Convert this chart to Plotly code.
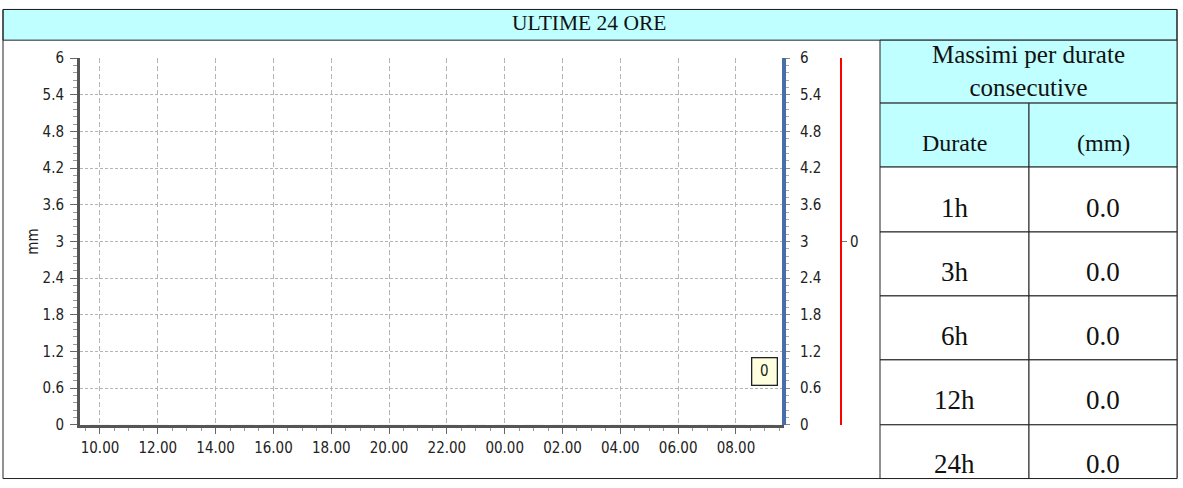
import plotly.graph_objects as go

W, H = 1183, 488

# ---------------- data ----------------
title_text = "ULTIME 24 ORE"
times = [
    "2024-05-01 10:00", "2024-05-01 11:00", "2024-05-01 12:00", "2024-05-01 13:00",
    "2024-05-01 14:00", "2024-05-01 15:00", "2024-05-01 16:00", "2024-05-01 17:00",
    "2024-05-01 18:00", "2024-05-01 19:00", "2024-05-01 20:00", "2024-05-01 21:00",
    "2024-05-01 22:00", "2024-05-01 23:00", "2024-05-02 00:00", "2024-05-02 01:00",
    "2024-05-02 02:00", "2024-05-02 03:00", "2024-05-02 04:00", "2024-05-02 05:00",
    "2024-05-02 06:00", "2024-05-02 07:00", "2024-05-02 08:00", "2024-05-02 09:00",
]
rain_mm = [0.0, 0.0, 0.0, 0.0, 0.0, 0.0, 0.0, 0.0, 0.0, 0.0, 0.0, 0.0,
           0.0, 0.0, 0.0, 0.0, 0.0, 0.0, 0.0, 0.0, 0.0, 0.0, 0.0, 0.0]
x_range = ["2024-05-01 09:18:30", "2024-05-02 09:39:40"]
y_title = "mm"
table_title = "Massimi per durate<br>consecutive"
col_headers = ["Durate", "(mm)"]
durate = ["1h", "3h", "6h", "12h", "24h"]
massimi_mm = [0.0, 0.0, 0.0, 0.0, 0.0]

# ---------------- helpers ----------------
# the photographed page is slightly compressed vertically; pre-compensate
V_SCALE, V_OFF = 0.964, 8.8


def fx(px):
    return px / W


def fy(py):
    y = (py - V_OFF) / V_SCALE
    y = min(max(y, 0.5), H - 0.5)
    return 1 - y / H


def vs(dpx):
    return dpx / V_SCALE


CYAN = "#bfffff"
BORDER = "#222222"
TICK_FONT = dict(family="DejaVu Sans Condensed, DejaVu Sans", size=15, color="#222222")
SERIF = "Liberation Serif, Times New Roman, serif"
GRID = "#b4b4b4"

fig = go.Figure()
fig.add_trace(go.Bar(x=times, y=rain_mm, marker_color="#4a6eaa",
                     xaxis="x", yaxis="y", hoverinfo="skip", showlegend=False))
fig.add_trace(go.Scatter(x=times, y=rain_mm, mode="none", xaxis="x", yaxis="y2",
                         hoverinfo="skip", showlegend=False))
cumulative = []
s = 0.0
for v in rain_mm:
    s += v
    cumulative.append(s)
fig.add_trace(go.Scatter(x=times, y=cumulative, mode="none", xaxis="x", yaxis="y3",
                         hoverinfo="skip", showlegend=False))

shapes = []
# header band
shapes.append(dict(type="rect", xref="paper", yref="paper", x0=fx(3), x1=fx(1177),
                   y0=fy(40), y1=fy(5), fillcolor=CYAN, line=dict(color=BORDER, width=1),
                   layer="below"))
# outer frame
shapes.append(dict(type="rect", xref="paper", yref="paper", x0=fx(3), x1=fx(1177),
                   y0=fy(487), y1=fy(5), line=dict(color=BORDER, width=1), layer="below"))

# table geometry
tx0, tmid, tx1 = 880, 1029, 1177
row_tops = [40, 103, 167, 232, 296, 360, 425, 487]
annotations = []
# table title cell
shapes.append(dict(type="rect", xref="paper", yref="paper", x0=fx(tx0), x1=fx(tx1),
                   y0=fy(row_tops[1]), y1=fy(row_tops[0]), fillcolor=CYAN,
                   line=dict(color=BORDER, width=1), layer="below"))
annotations.append(dict(xref="paper", yref="paper", x=fx((tx0 + tx1) / 2),
                        y=fy((row_tops[0] + row_tops[1]) / 2 - 1), text=table_title,
                        showarrow=False, font=dict(family=SERIF, size=25, color="#111"),
                        xanchor="center", yanchor="middle"))
# column header cells
for i, (a, b) in enumerate([(tx0, tmid), (tmid, tx1)]):
    shapes.append(dict(type="rect", xref="paper", yref="paper", x0=fx(a), x1=fx(b),
                       y0=fy(row_tops[2]), y1=fy(row_tops[1]), fillcolor=CYAN,
                       line=dict(color=BORDER, width=1), layer="below"))
    annotations.append(dict(xref="paper", yref="paper", x=fx((a + b) / 2),
                            y=fy((row_tops[1] + row_tops[2]) / 2 + 7.5),
                            text=col_headers[i], showarrow=False,
                            font=dict(family=SERIF, size=24, color="#111"),
                            xanchor="center", yanchor="middle"))
# data rows
for r, (d, v) in enumerate(zip(durate, massimi_mm)):
    top, bot = row_tops[r + 2], row_tops[r + 3]
    for j, (a, b) in enumerate([(tx0, tmid), (tmid, tx1)]):
        shapes.append(dict(type="rect", xref="paper", yref="paper", x0=fx(a), x1=fx(b),
                           y0=fy(bot), y1=fy(top), fillcolor="white",
                           line=dict(color=BORDER, width=1), layer="below"))
        txt = d if j == 0 else f"{v:.1f}"
        annotations.append(dict(xref="paper", yref="paper", x=fx((a + b) / 2),
                                y=fy((top + bot) / 2 + 8), text=txt,
                                showarrow=False,
                                font=dict(family=SERIF, size=27, color="#111"),
                                xanchor="center", yanchor="middle"))

# header title
annotations.append(dict(xref="paper", yref="paper", x=fx(589), y=fy(23), text=title_text,
                        showarrow=False, font=dict(family=SERIF, size=21.5, color="#111"),
                        xanchor="center", yanchor="middle"))

# value label of the last point
annotations.append(dict(xref="x", yref="y", x=times[-1], y=rain_mm[-1], yshift=vs(51),
                        text=f"{cumulative[-1]:.0f}", showarrow=False,
                        font=dict(family="DejaVu Sans Condensed, DejaVu Sans", size=15, color="#222"),
                        bgcolor="#ffffe0", bordercolor="#222", borderwidth=1.3,
                        borderpad=4, width=16, height=18))

fig.update_layout(
    width=W, height=H,
    margin=dict(l=0, r=0, t=0, b=0),
    paper_bgcolor="white", plot_bgcolor="white",
    showlegend=False,
    bargap=0.3,
    shapes=shapes,
    annotations=annotations,
    xaxis=dict(
        domain=[fx(80), fx(784)], type="date", range=x_range,
        tick0="2024-05-01 10:00", dtick=7200000, tickformat="%H.%M",
        ticks="outside", ticklen=6, tickcolor="#666", tickwidth=1,
        showline=True, linewidth=3, linecolor="#555",
        showgrid=True, gridcolor=GRID, gridwidth=1, griddash="5px,3px",
        minor=dict(dtick=1800000, ticks="outside", ticklen=3, tickcolor="#999",
                   showgrid=False),
        tickfont=TICK_FONT, zeroline=False, anchor="y", ticklabelstandoff=1,
        fixedrange=True,
    ),
    yaxis=dict(
        domain=[fy(425), fy(58)], range=[0, 6], tick0=0, dtick=0.6,
        ticks="outside", ticklen=7, tickcolor="#666", tickwidth=1,
        showline=True, linewidth=3, linecolor="#555",
        showgrid=True, gridcolor=GRID, gridwidth=1, griddash="3px,2px",
        minor=dict(dtick=0.12, ticks="outside", ticklen=4, tickcolor="#999",
                   showgrid=False),
        tickfont=TICK_FONT, zeroline=False, anchor="x", ticklabelstandoff=3,
        title=dict(text=y_title, font=TICK_FONT, standoff=1),
        fixedrange=True,
    ),
    yaxis2=dict(
        overlaying="y", anchor="free", position=fx(784), side="right",
        range=[0, 6], tick0=0, dtick=0.6,
        ticks="outside", ticklen=4, tickcolor="#888", tickwidth=1,
        showline=True, linewidth=4, linecolor="#4a6eaa",
        minor=dict(dtick=0.12, ticks="outside", ticklen=3, tickcolor="#aaa",
                   showgrid=False),
        showgrid=False, zeroline=False, tickfont=TICK_FONT, fixedrange=True,
        ticklabelstandoff=7,
    ),
    yaxis3=dict(
        overlaying="y", anchor="free", position=fx(841), side="right",
        range=[-1, 1], tickvals=[0], ticktext=["0"],
        ticks="outside", ticklen=5, tickcolor="#777", tickwidth=1,
        showline=True, linewidth=2, linecolor="#ff0000",
        showgrid=False, zeroline=False, tickfont=TICK_FONT, fixedrange=True,
    ),
)

fig.write_html(
    "out.html",
    config={"displayModeBar": False},
    post_script=(
        "document.documentElement.style.margin='0px';"
        "document.body.style.margin='0px';document.body.style.padding='0px';"
        "document.documentElement.style.overflow='hidden';"
        "var gd=document.getElementById('{plot_id}');"
        "gd.style.position='fixed';gd.style.left='0px';gd.style.top='0px';"
    ),
)
